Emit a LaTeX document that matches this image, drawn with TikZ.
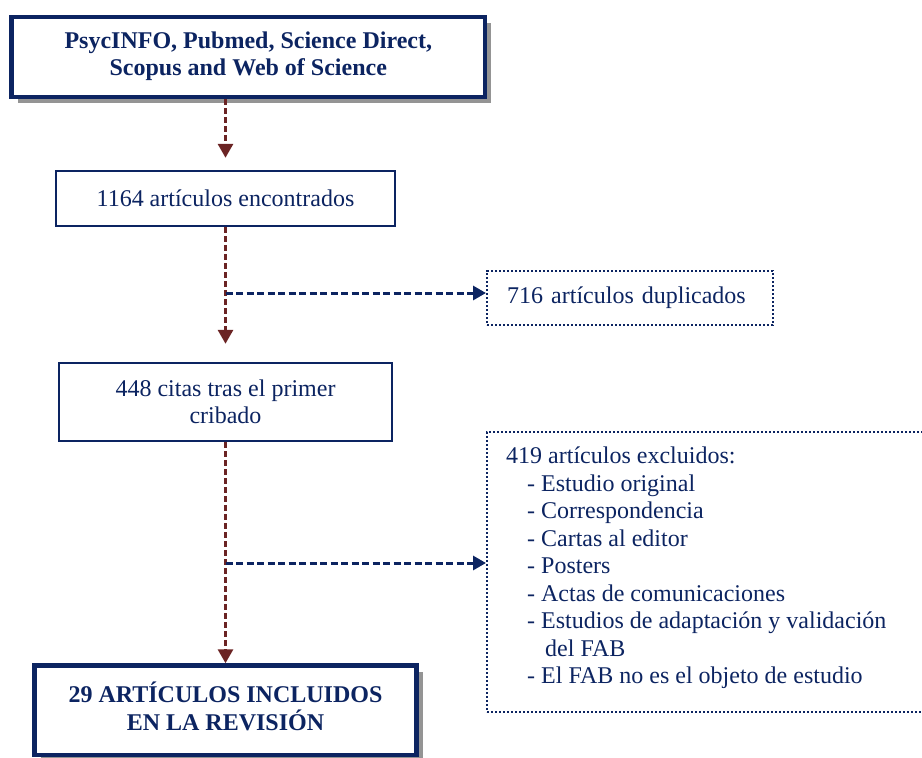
\documentclass[tikz,border=0pt]{standalone}
\usepackage{fontspec}
\setmainfont{Liberation Serif}
\usetikzlibrary{arrows.meta,shadows}
\definecolor{navy}{HTML}{0C2461}
\definecolor{brn}{HTML}{6B2424}
\begin{document}
\begin{tikzpicture}[x=1pt,y=-1pt,
  every node/.style={font=\fontsize{24}{27.5}\selectfont, text=navy, inner sep=0pt},
  thickbox/.style={draw=navy, line width=4.5pt, fill=white,
    drop shadow={shadow xshift=6pt, shadow yshift=-6pt, fill=black!42, opacity=1},
    align=center, font=\fontsize{24}{27}\selectfont\bfseries},
  thinbox/.style={draw=navy, line width=2.4pt, fill=white, align=center},
  dotbox/.style={draw=navy, line width=2.4pt, dash pattern=on 2.2pt off 1.8pt},
  downarr/.style={draw=brn, line width=3pt, dash pattern=on 6pt off 3pt, -{Triangle[length=14pt,width=15pt]}},
  sidearr/.style={draw=navy, line width=3pt, dash pattern=on 7pt off 3.5pt, -{Triangle[length=13pt,width=14pt]}}]
\useasboundingbox (0,0) rectangle (922,758);

\node[thickbox, minimum width=473.5pt, minimum height=80pt] (db) at (248.3,57)
  {\raisebox{-3pt}{\begin{tabular}{@{}c@{}}PsycINFO, Pubmed, Science Direct,\\Scopus and Web of Science\end{tabular}}};
\node[thinbox, minimum width=339pt, minimum height=55pt] (found) at (225.5,198.5)
  {1164 artículos encontrados};
\node[thinbox, minimum width=333pt, minimum height=78pt] (screen) at (225.5,402)
  {448 citas tras el primer\\cribado};
\node[dotbox, anchor=west, minimum height=54pt, text width=246pt, inner xsep=20pt, align=left] (dup) at (486,298)
  {716 artículos duplicados};
\node[dotbox, anchor=north west, minimum width=450pt, minimum height=280pt] (excl) at (486,431) {};
\node[anchor=north west, align=left] (excltxt) at (506,447)
  {419 artículos excluidos:\\
   \hspace*{21pt}- Estudio original\\
   \hspace*{21pt}- Correspondencia\\
   \hspace*{21pt}- Cartas al editor\\
   \hspace*{21pt}- Posters\\
   \hspace*{21pt}- Actas de comunicaciones\\
   \hspace*{21pt}- Estudios de adaptación y validación\\
   \hspace*{39pt}del FAB\\
   \hspace*{21pt}- El FAB no es el objeto de estudio};
\node[thickbox, minimum width=382pt, minimum height=89.5pt] (incl) at (225.5,710.25)
  {\raisebox{4pt}{\begin{tabular}{@{}c@{}}29 ARTÍCULOS INCLUIDOS\\EN LA REVISIÓN\end{tabular}}};

\coordinate (b1) at (225.5,293);
\coordinate (b2) at (225.5,563);
\draw[downarr] (db.south -| found.north) -- ([yshift=12pt]found.north);
\draw[downarr] (found.south) -- ([yshift=18pt]screen.north);
\draw[downarr] (screen.south) -- (incl.north);
\draw[sidearr] (b1) -- (b1 -| dup.west);
\draw[sidearr] (b2) -- (b2 -| excl.west);
\end{tikzpicture}
\end{document}
